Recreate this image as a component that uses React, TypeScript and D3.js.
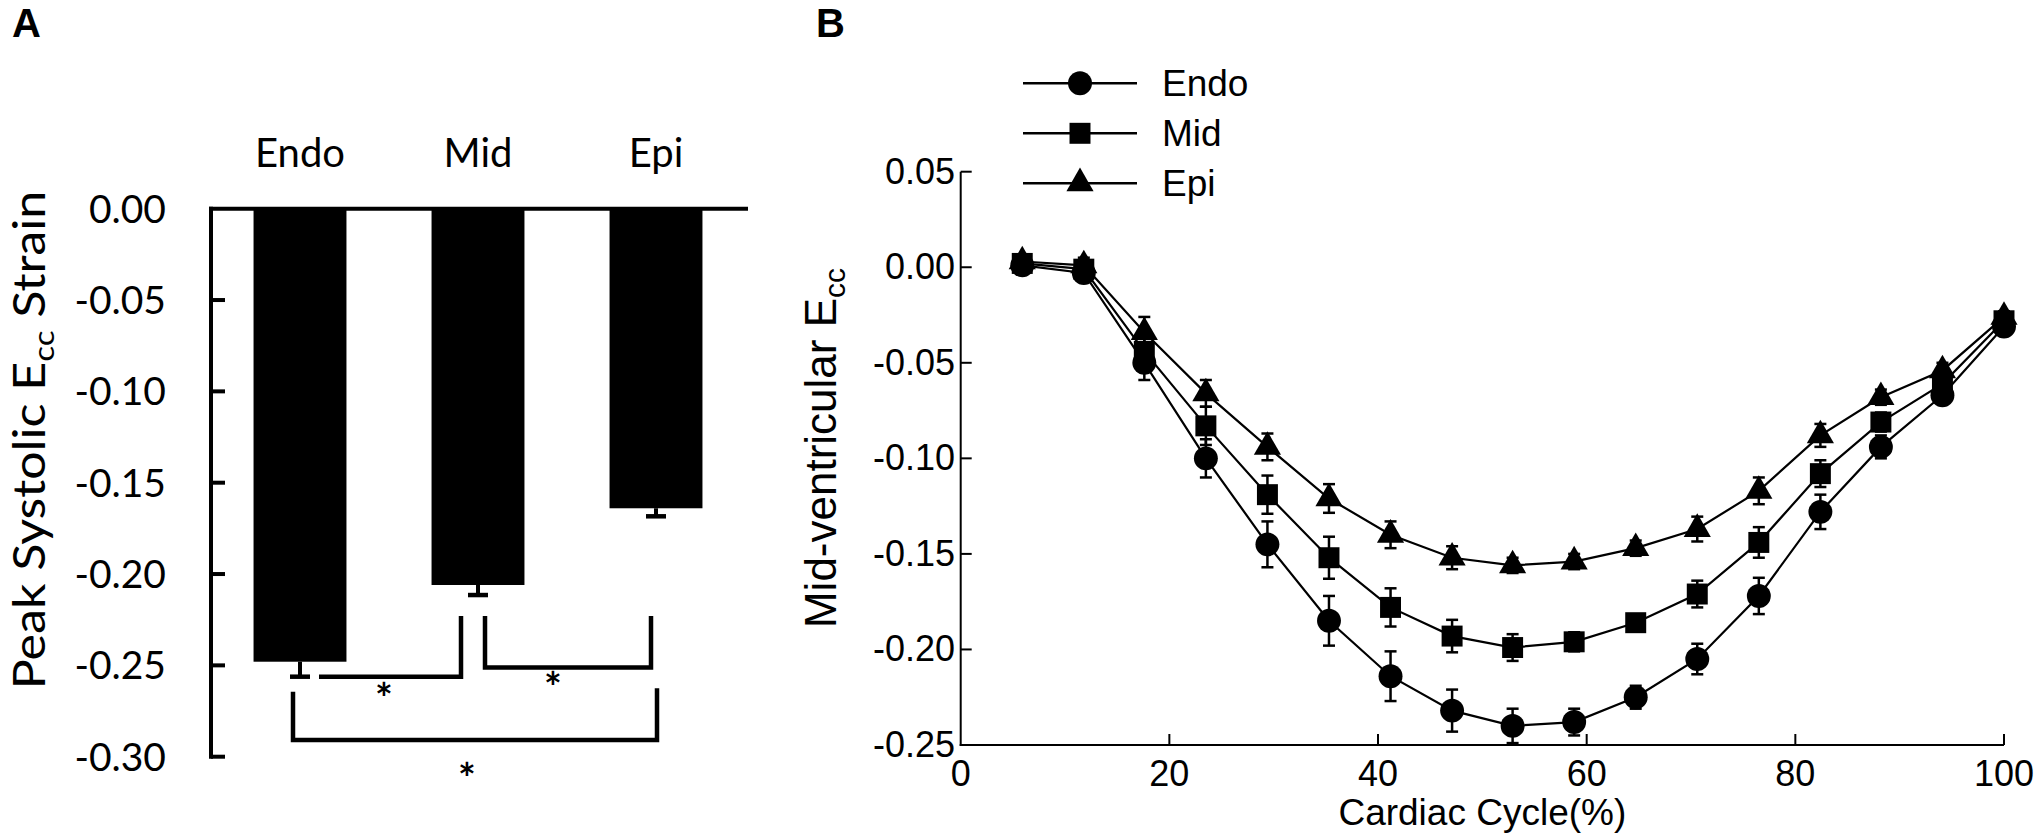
import React from 'react';
import * as d3 from 'd3';

// ---------------- Panel A data ----------------
const barCategories = ['Endo', 'Mid', 'Epi'];
const barMeans = [-0.248, -0.206, -0.164];
const barErrors = [0.0082, 0.0055, 0.0044];
const barTickValues = [0, -0.05, -0.1, -0.15, -0.2, -0.25, -0.3];
const sigPairs = [['Endo', 'Mid'], ['Mid', 'Epi'], ['Endo', 'Epi']];
const sigBase = [-0.2562, -0.2511, -0.2909];
const sigArmTop = [[null, -0.223], [-0.223, -0.223], [-0.2645, -0.2625]];
const sigLabels = ['*', '*', '*'];

// ---------------- Panel B data ----------------
const cycleX = [5.9, 11.8, 17.6, 23.5, 29.4, 35.3, 41.2, 47.1, 52.9, 58.8, 64.7, 70.6, 76.5, 82.4, 88.2, 94.1, 100];
const endoMean = [0.001, -0.003, -0.05, -0.1, -0.145, -0.185, -0.214, -0.232, -0.24, -0.238, -0.225, -0.205, -0.172, -0.128, -0.094, -0.067, -0.031];
const endoErr = [0.003, 0.003, 0.009, 0.01, 0.012, 0.013, 0.013, 0.011, 0.009, 0.007, 0.006, 0.008, 0.0095, 0.009, 0.006, 0.004, 0.003];
const midMean = [0.002, -0.001, -0.044, -0.083, -0.119, -0.152, -0.178, -0.193, -0.199, -0.196, -0.186, -0.171, -0.144, -0.108, -0.081, -0.061, -0.028];
const midErr = [0.003, 0.003, 0.008, 0.01, 0.01, 0.011, 0.01, 0.0085, 0.007, 0.005, 0.004, 0.007, 0.008, 0.007, 0.005, 0.004, 0.003];
const epiMean = [0.003, 0.001, -0.034, -0.066, -0.094, -0.121, -0.14, -0.152, -0.156, -0.154, -0.147, -0.137, -0.117, -0.088, -0.068, -0.054, -0.026];
const epiErr = [0.003, 0.004, 0.008, 0.007, 0.007, 0.0075, 0.007, 0.006, 0.004, 0.004, 0.004, 0.0065, 0.007, 0.006, 0.004, 0.004, 0.003];
const seriesNames = ['Endo', 'Mid', 'Epi'];
const lineTickX = [0, 20, 40, 60, 80, 100];
const lineTickY = [0.05, 0, -0.05, -0.1, -0.15, -0.2, -0.25];

const FA = 'Lato, "Open Sans", sans-serif';
const FB = '"Liberation Sans", Arial, Helvetica, sans-serif';

export default function App() {
  // ---------- Panel A scales ----------
  const xA = d3.scaleBand<string>().domain(barCategories).range([211, 745]).paddingInner(0.478).paddingOuter(0.239);
  const yA = d3.scaleLinear().domain([-0.3, 0]).range([756.7, 208.7]);
  const bw = xA.bandwidth();
  const cx = (c: string) => (xA(c) as number) + bw / 2;
  const sigXOff = [[19, -17], [7, -5], [-7, 1]];
  const starDx = [-6, -15, -8];
  const starDy = [15, 13.4, 31.7];

  // ---------- Panel B scales ----------
  const xB = d3.scaleLinear().domain([0, 100]).range([960.7, 2004]);
  const yB = d3.scaleLinear().domain([-0.25, 0.05]).range([745, 171.7]);
  const means = [endoMean, midMean, epiMean];
  const errs = [endoErr, midErr, epiErr];
  const symbols = [d3.symbolCircle, d3.symbolSquare, d3.symbolTriangle];
  const symSizes = [450, 440, 320];
  const line = d3.line<[number, number]>().x(d => xB(d[0])).y(d => yB(d[1]));

  return (
    <svg width={2040} height={838} style={{ position: 'absolute', left: 0, top: 0, background: '#fff' }}>
      <rect x={0} y={0} width={2040} height={838} fill="#fff" />
      {/* ================= Panel A ================= */}
      <text x={12} y={37} fontFamily={FB} fontWeight={700} fontSize={40}>A</text>
      {barCategories.map((c, i) => (
        <g key={c}>
          <rect x={xA(c)} y={yA(0)} width={bw} height={yA(barMeans[i]) - yA(0)} fill="#000" />
          <line x1={cx(c)} x2={cx(c)} y1={yA(barMeans[i])} y2={yA(barMeans[i] - barErrors[i])} stroke="#000" strokeWidth={4} />
          <line x1={cx(c) - 10} x2={cx(c) + 10} y1={yA(barMeans[i] - barErrors[i])} y2={yA(barMeans[i] - barErrors[i])} stroke="#000" strokeWidth={4.5} />
          <text x={cx(c)} y={167} textAnchor="middle" fontFamily={FA} fontSize={40}>{c}</text>
        </g>
      ))}
      {/* zero line */}
      <line x1={209} x2={748} y1={yA(0)} y2={yA(0)} stroke="#000" strokeWidth={4} />
      {/* y axis */}
      <line x1={211} x2={211} y1={yA(0) - 2} y2={yA(-0.3) + 2} stroke="#000" strokeWidth={4} />
      {barTickValues.map(v => (
        <g key={v}>
          {v !== 0 && <line x1={211} x2={225} y1={yA(v)} y2={yA(v)} stroke="#000" strokeWidth={4} />}
          <text x={166} y={yA(v) + 14} textAnchor="end" fontFamily={FA} fontSize={39}>{v.toFixed(2)}</text>
        </g>
      ))}
      <text transform={`translate(45, 440) rotate(-90) scale(1.14,1)`} textAnchor="middle" fontFamily={FA} fontSize={44}>
        Peak Systolic E<tspan fontSize={29} dy={9}>cc</tspan><tspan dy={-9}> Strain</tspan>
      </text>
      {/* significance brackets */}
      {sigPairs.map((p, i) => {
        const xl = cx(p[0]) + sigXOff[i][0];
        const xr = cx(p[1]) + sigXOff[i][1];
        const yb = yA(sigBase[i]);
        const tl = sigArmTop[i][0];
        const tr = sigArmTop[i][1] as number;
        const d = tl === null
          ? `M${xl},${yb}H${xr}V${yA(tr)}`
          : `M${xl},${yA(tl)}V${yb}H${xr}V${yA(tr)}`;
        return (
          <g key={i}>
            <path d={d} fill="none" stroke="#000" strokeWidth={4.5} strokeLinejoin="miter" />
            <text x={(xl + xr) / 2 + starDx[i]} y={yb + starDy[i] + 22} textAnchor="middle" fontFamily={FA} fontWeight={700} fontSize={42}>{sigLabels[i]}</text>
          </g>
        );
      })}

      {/* ================= Panel B ================= */}
      <text x={816} y={37} fontFamily={FB} fontWeight={700} fontSize={40}>B</text>
      {/* axes */}
      <line x1={xB(0)} x2={xB(0)} y1={yB(0.05)} y2={yB(-0.25) + 1} stroke="#000" strokeWidth={2} />
      <line x1={xB(0) - 1} x2={xB(100)} y1={yB(-0.25)} y2={yB(-0.25)} stroke="#000" strokeWidth={2} />
      {lineTickY.map(v => (
        <g key={'ty' + v}>
          <line x1={xB(0)} x2={xB(0) + 11} y1={yB(v)} y2={yB(v)} stroke="#000" strokeWidth={2} />
          <text x={955} y={yB(v) + 12} textAnchor="end" fontFamily={FB} fontSize={36}>{v.toFixed(2)}</text>
        </g>
      ))}
      {lineTickX.map(v => (
        <g key={'tx' + v}>
          {v !== 0 && <line x1={xB(v)} x2={xB(v)} y1={yB(-0.25)} y2={yB(-0.25) - 11} stroke="#000" strokeWidth={2} />}
          <text x={xB(v)} y={786} textAnchor="middle" fontFamily={FB} fontSize={36}>{String(v)}</text>
        </g>
      ))}
      <text x={(xB(0) + xB(100)) / 2} y={825} textAnchor="middle" fontFamily={FB} fontSize={37}>Cardiac Cycle(%)</text>
      <text transform={`translate(836, 448) rotate(-90)`} textAnchor="middle" fontFamily={FB} fontSize={44}>
        Mid-ventricular E<tspan fontSize={30} dy={9}>cc</tspan>
      </text>
      {/* series */}
      {seriesNames.map((name, s) => {
        const pts = cycleX.map((x, i) => [x, means[s][i]] as [number, number]);
        const sym = d3.symbol().type(symbols[s]).size(symSizes[s])() as string;
        return (
          <g key={name}>
            <path d={line(pts) as string} fill="none" stroke="#000" strokeWidth={2.2} />
            {cycleX.map((x, i) => {
              const px = xB(x);
              const y1 = yB(means[s][i] + errs[s][i]);
              const y2 = yB(means[s][i] - errs[s][i]);
              return (
                <g key={i}>
                  <line x1={px} x2={px} y1={y1} y2={y2} stroke="#000" strokeWidth={2.5} />
                  <line x1={px - 6} x2={px + 6} y1={y1} y2={y1} stroke="#000" strokeWidth={2.5} />
                  <line x1={px - 6} x2={px + 6} y1={y2} y2={y2} stroke="#000" strokeWidth={2.5} />
                  <path d={sym} transform={`translate(${px},${yB(means[s][i])})`} fill="#000" />
                </g>
              );
            })}
          </g>
        );
      })}
      {/* legend */}
      {seriesNames.map((name, s) => {
        const ry = 83.3 + s * 50;
        const sym = d3.symbol().type(symbols[s]).size(symSizes[s])() as string;
        return (
          <g key={'lg' + name}>
            <line x1={1023} x2={1137} y1={ry} y2={ry} stroke="#000" strokeWidth={2.6} />
            <path d={sym} transform={`translate(1080,${ry})`} fill="#000" />
            <text x={1162} y={ry + 12.5} fontFamily={FB} fontSize={37}>{name}</text>
          </g>
        );
      })}
    </svg>
  );
}
